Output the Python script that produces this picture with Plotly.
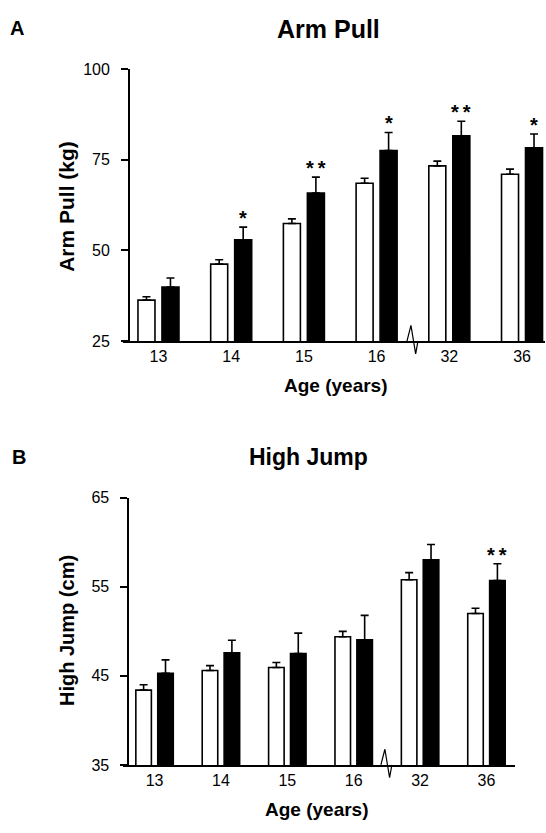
import plotly.graph_objects as go

ages = ["13", "14", "15", "16", "32", "36"]

arm_white = [36.3, 46.2, 57.4, 68.5, 73.3, 71.0]
arm_white_err = [0.9, 1.2, 1.3, 1.4, 1.3, 1.4]
arm_black = [39.9, 52.9, 65.8, 77.5, 81.6, 78.3]
arm_black_err = [2.5, 3.5, 4.4, 5.0, 4.0, 3.8]
arm_sig = ["", "*", "**", "*", "**", "*"]

jump_white = [43.4, 45.6, 45.95, 49.4, 55.8, 52.0]
jump_white_err = [0.6, 0.55, 0.55, 0.6, 0.8, 0.6]
jump_black = [45.3, 47.6, 47.5, 49.05, 58.05, 55.7]
jump_black_err = [1.5, 1.4, 2.3, 2.75, 1.7, 1.9]
jump_sig = ["", "", "", "", "", "**"]

W, H = 546, 833
FONT = "Liberation Sans, Arial, sans-serif"
xs = list(range(len(ages)))
BW = 0.234
OFF_W = -0.282
OFF_B = 0.048

fig = go.Figure()


def add_panel(xa, ya, white, werr, black, berr):
    fig.add_trace(go.Bar(
        x=xs, y=white, width=BW, offset=OFF_W, xaxis=xa, yaxis=ya,
        marker=dict(color="white", line=dict(color="black", width=1.6)),
        error_y=dict(type="data", array=werr, arrayminus=[0] * len(werr),
                     symmetric=False, color="black", thickness=1.6, width=4),
        showlegend=False))
    fig.add_trace(go.Bar(
        x=xs, y=black, width=BW, offset=OFF_B, xaxis=xa, yaxis=ya,
        marker=dict(color="black", line=dict(color="black", width=1.6)),
        error_y=dict(type="data", array=berr, arrayminus=[0] * len(berr),
                     symmetric=False, color="black", thickness=1.6, width=4),
        showlegend=False))


add_panel("x", "y", arm_white, arm_white_err, arm_black, arm_black_err)
add_panel("x2", "y2", jump_white, jump_white_err, jump_black, jump_black_err)

axis_common = dict(showgrid=False, zeroline=False, showline=True,
                   linecolor="black", linewidth=1.8,
                   tickfont=dict(family=FONT, size=16, color="black"))

A_BOTTOM, A_TOP = 340, 62.3
B_BOTTOM, B_TOP = 772.7, 500

fig.update_layout(
    width=W, height=H, margin=dict(l=0, r=0, t=0, b=0),
    plot_bgcolor="white", paper_bgcolor="white",
    barmode="overlay",
    xaxis=dict(domain=[122.7 / W, 545 / W], range=[-0.492, 5.316],
               tickvals=xs, ticktext=ages, ticks="", anchor="y", **axis_common),
    yaxis=dict(domain=[1 - A_BOTTOM / H, 1 - A_TOP / H], range=[25, 100],
               tickvals=[25, 50, 75, 100], ticks="outside", ticklen=7,
               tickwidth=1.8, tickcolor="black", anchor="free",
               position=129 / W, ticklabelstandoff=8, **axis_common),
    xaxis2=dict(domain=[122.7 / W, 515 / W], range=[-0.48, 5.43],
                tickvals=xs, ticktext=ages, ticks="", anchor="y2", **axis_common),
    yaxis2=dict(domain=[1 - B_BOTTOM / H, 1 - B_TOP / H], range=[35, 65],
                tickvals=[35, 45, 55, 65], ticks="outside", ticklen=7,
                tickwidth=1.8, tickcolor="black", anchor="free",
                position=128.3 / W, ticklabelstandoff=8, **axis_common),
)

ann = []


def txt(text, x, y, size, bold=True, angle=0):
    ann.append(dict(text=f"<b>{text}</b>" if bold else text,
                    x=x / W, y=1 - y / H, xref="paper", yref="paper",
                    xanchor="center", yanchor="middle", showarrow=False,
                    textangle=angle,
                    font=dict(family=FONT, size=size, color="black")))


txt("A", 17, 20, 20)
txt("Arm Pull", 328, 21, 25)
txt("Arm Pull (kg)", 67, 203, 21, angle=-90)
txt("Age (years)", 336, 385, 19)
txt("B", 19, 458, 20)
txt("High Jump", 308, 458, 23)
txt("High Jump (cm)", 67, 636, 20, angle=-90)
txt("Age (years)", 317, 818, 19)

star_x = OFF_B + BW / 2
for xref, yref, vals, errs, sig in [("x", "y", arm_black, arm_black_err, arm_sig),
                                    ("x2", "y2", jump_black, jump_black_err, jump_sig)]:
    for i, s in enumerate(sig):
        if s:
            ann.append(dict(text="<b>" + "\u2009".join(s) + "</b>",
                            x=i + star_x, y=vals[i] + errs[i],
                            xref=xref, yref=yref, xanchor="center",
                            yanchor="bottom", yshift=-4, showarrow=False,
                            font=dict(family=FONT, size=20, color="black")))

fig.update_layout(annotations=ann)

# axis break marks between the 4th and 5th categories (zigzag across the x axis)
brk = (xs[3] + xs[4]) / 2
for xref, axis_px, unit_px in [("x", A_BOTTOM, 72.7), ("x2", B_BOTTOM, 66.4)]:
    pts = [(-6, 0), (-2, -16), (2.7, 13), (5, 0)]
    path = ""
    for k, (dx, dy) in enumerate(pts):
        px = brk + dx / unit_px
        py = 1 - (axis_px + dy) / H
        path += ("M " if k == 0 else " L ") + f"{px},{py}"
    fig.add_shape(type="path", xref=xref, yref="paper", path=path,
                  line=dict(color="black", width=1.2))

fig.write_html("out.html")
